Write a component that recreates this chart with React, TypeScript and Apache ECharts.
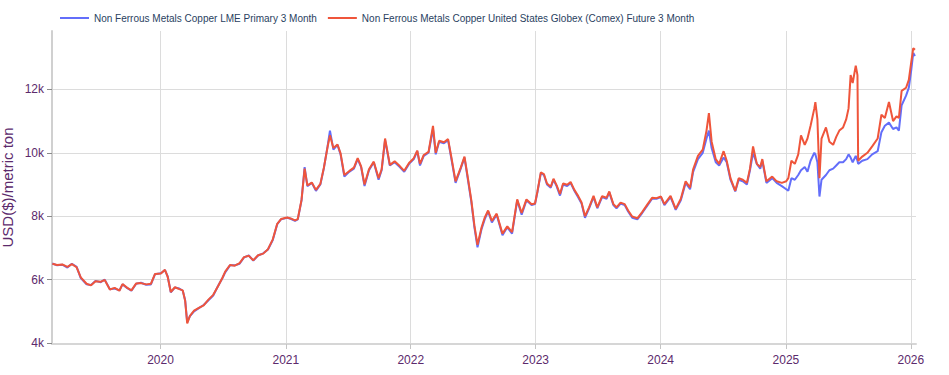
import React, { useEffect, useRef } from "react";
import * as echarts from "echarts";

const FONT = "'Liberation Sans', Arial, Helvetica, sans-serif";
const PURPLE = "#5c2a6c";

const seriesNames = [
  "Non Ferrous Metals Copper LME Primary 3 Month",
  "Non Ferrous Metals Copper United States Globex (Comex) Future 3 Month",
];

const dates = [
  // 2019
  "2019-02-19", "2019-03-05", "2019-03-20", "2019-04-04", "2019-04-17", "2019-05-01", "2019-05-13", "2019-05-30",
  "2019-06-12", "2019-06-25", "2019-07-10", "2019-07-22", "2019-08-06", "2019-08-20", "2019-09-03", "2019-09-12",
  "2019-09-26", "2019-10-08", "2019-10-22", "2019-11-05", "2019-11-20", "2019-12-04", "2019-12-16",
  // 2020
  "2020-01-02", "2020-01-14", "2020-01-22", "2020-01-31", "2020-02-12", "2020-02-25", "2020-03-06", "2020-03-13",
  "2020-03-19", "2020-03-27", "2020-04-08", "2020-04-22", "2020-05-06", "2020-05-20", "2020-06-03", "2020-06-17",
  "2020-06-30", "2020-07-08", "2020-07-22", "2020-08-05", "2020-08-19", "2020-09-01", "2020-09-15", "2020-09-28",
  "2020-10-12", "2020-10-27", "2020-11-10", "2020-11-24", "2020-12-07", "2020-12-18",
  // 2021
  "2021-01-05", "2021-01-15", "2021-01-28", "2021-02-05", "2021-02-16", "2021-02-25", "2021-03-05", "2021-03-18",
  "2021-03-30", "2021-04-12", "2021-04-22", "2021-05-03", "2021-05-10", "2021-05-20", "2021-06-01", "2021-06-10",
  "2021-06-21", "2021-07-05", "2021-07-19", "2021-07-30", "2021-08-09", "2021-08-19", "2021-09-01", "2021-09-15",
  "2021-09-29", "2021-10-08", "2021-10-18", "2021-11-01", "2021-11-15", "2021-11-30", "2021-12-13", "2021-12-27",
  // 2022
  "2022-01-10", "2022-01-20", "2022-01-28", "2022-02-08", "2022-02-22", "2022-03-07", "2022-03-15", "2022-03-25",
  "2022-04-08", "2022-04-20", "2022-04-29", "2022-05-12", "2022-05-27", "2022-06-07", "2022-06-17", "2022-06-27",
  "2022-07-06", "2022-07-15", "2022-07-27", "2022-08-05", "2022-08-15", "2022-08-26", "2022-09-09", "2022-09-26",
  "2022-10-10", "2022-10-24", "2022-11-08", "2022-11-21", "2022-12-05", "2022-12-20", "2022-12-30",
  // 2023
  "2023-01-06", "2023-01-16", "2023-01-25", "2023-02-03", "2023-02-14", "2023-02-22", "2023-03-03", "2023-03-13",
  "2023-03-22", "2023-04-03", "2023-04-13", "2023-04-24", "2023-05-05", "2023-05-15", "2023-05-25", "2023-06-06",
  "2023-06-19", "2023-06-30", "2023-07-14", "2023-07-27", "2023-08-04", "2023-08-16", "2023-08-25", "2023-09-06",
  "2023-09-18", "2023-09-28", "2023-10-10", "2023-10-25", "2023-11-08", "2023-11-24", "2023-12-07", "2023-12-20",
  // 2024
  "2024-01-02", "2024-01-12", "2024-01-30", "2024-02-14", "2024-02-29", "2024-03-14", "2024-03-27", "2024-04-05",
  "2024-04-19", "2024-05-03", "2024-05-14", "2024-05-21", "2024-05-29", "2024-06-10", "2024-06-20", "2024-07-03",
  "2024-07-12", "2024-07-23", "2024-08-06", "2024-08-16", "2024-08-28", "2024-09-09", "2024-09-18", "2024-09-27",
  "2024-10-08", "2024-10-18", "2024-10-24", "2024-11-05", "2024-11-22", "2024-12-05", "2024-12-20",
  // 2025 - 2026
  "2025-01-02", "2025-01-08", "2025-01-17", "2025-01-27", "2025-02-06", "2025-02-14", "2025-02-25", "2025-03-05",
  "2025-03-14", "2025-03-25", "2025-03-28", "2025-04-03", "2025-04-09", "2025-04-15", "2025-04-28", "2025-05-08",
  "2025-05-19", "2025-05-28", "2025-06-06", "2025-06-17", "2025-06-26", "2025-07-03", "2025-07-09", "2025-07-15",
  "2025-07-24", "2025-07-29", "2025-07-31", "2025-08-12", "2025-08-27", "2025-09-10", "2025-09-26", "2025-10-07",
  "2025-10-17", "2025-10-29", "2025-11-10", "2025-11-20", "2025-11-27", "2025-12-05", "2025-12-18", "2025-12-26",
  "2026-01-02", "2026-01-08", "2026-01-13",
];

const lme = [
  // 2019
  6510, 6450, 6470, 6380, 6500, 6400, 6050, 5850, 5830, 5960, 5920, 6000, 5700, 5720, 5660, 5850,
  5730, 5650, 5870, 5900, 5840, 5850, 6170,
  // 2020
  6200, 6300, 6100, 5600, 5750, 5720, 5650, 5350, 4650, 4850, 5000, 5100, 5200, 5350, 5500, 5800,
  6050, 6230, 6450, 6450, 6500, 6700, 6760, 6600, 6760, 6830, 6950, 7250, 7750, 7900,
  // 2021
  7950, 7920, 7850, 7900, 8500, 9550, 8950, 9050, 8800, 9000, 9500, 10200, 10700, 10100, 10250, 9950,
  9250, 9400, 9500, 9800, 9550, 8950, 9450, 9700, 9150, 9450, 10400, 9600, 9700, 9550, 9400, 9650,
  // 2022
  9800, 10050, 9600, 9900, 10000, 10750, 9950, 10350, 10300, 10400, 9850, 9050, 9500, 9850, 9150, 8450,
  7650, 7020, 7600, 7900, 8150, 7800, 8050, 7400, 7650, 7450, 8500, 8050, 8500, 8350, 8380,
  // 2023
  8750, 9350, 9300, 9000, 8900, 9150, 8950, 8650, 9000, 8950, 9050, 8800, 8600, 8400, 7950, 8250,
  8600, 8250, 8600, 8550, 8750, 8350, 8250, 8400, 8350, 8150, 7950, 7900, 8100, 8350, 8550, 8550,
  // 2024
  8600, 8350, 8600, 8200, 8500, 9050, 8850, 9400, 9800, 10000, 10450, 10700, 10150, 9700, 9600, 9850,
  9700, 9150, 8780, 9150, 9100, 9000, 9450, 10000, 9650, 9500, 9750, 9050, 9200, 9050, 8950,
  // 2025 - 2026
  8850, 8800, 9200, 9150, 9300, 9450, 9550, 9400, 9750, 10000, 9950, 9700, 8620, 9150, 9300, 9450,
  9500, 9600, 9700, 9700, 9800, 9950, 9850, 9700, 9900, 9750, 9650, 9750, 9800, 9950, 10050, 10650,
  10850, 10950, 10750, 10800, 10700, 11500, 11800, 12050, 12600, 13150, 13050,
];

const comex = [
  // 2019
  6500, 6460, 6480, 6400, 6490, 6390, 6070, 5870, 5820, 5950, 5930, 5990, 5690, 5740, 5650, 5860,
  5740, 5660, 5880, 5890, 5850, 5870, 6180,
  // 2020
  6190, 6310, 6090, 5610, 5760, 5700, 5660, 5330, 4620, 4860, 5020, 5110, 5190, 5370, 5520, 5790,
  6060, 6250, 6460, 6440, 6520, 6710, 6750, 6610, 6770, 6820, 6960, 7270, 7760, 7910,
  // 2021
  7960, 7930, 7870, 7910, 8520, 9500, 8970, 9060, 8830, 9020, 9520, 10180, 10550, 10150, 10260, 9980,
  9300, 9420, 9530, 9830, 9570, 9000, 9480, 9720, 9200, 9480, 10450, 9620, 9730, 9580, 9430, 9680,
  // 2022
  9830, 10070, 9650, 9930, 10030, 10850, 10000, 10380, 10330, 10430, 9900, 9100, 9530, 9880, 9200, 8500,
  7700, 7100, 7650, 7950, 8180, 7850, 8080, 7450, 7680, 7500, 8530, 8100, 8530, 8380, 8400,
  // 2023
  8780, 9380, 9330, 9030, 8930, 9180, 8980, 8700, 9030, 8990, 9080, 8830, 8640, 8430, 8000, 8280,
  8640, 8280, 8630, 8580, 8780, 8380, 8280, 8430, 8380, 8180, 7990, 7930, 8130, 8380, 8580, 8570,
  // 2024
  8620, 8380, 8640, 8230, 8550, 9100, 8900, 9480, 9900, 10100, 10700, 11250, 10350, 9800, 9650, 10050,
  9750, 9200, 8800, 9200, 9150, 9050, 9500, 10200, 9650, 9550, 9800, 9100, 9250, 9100, 9050,
  // 2025 - 2026
  9100, 9200, 9750, 9650, 9950, 10550, 10250, 10450, 10850, 11400, 11600, 11050, 9200, 10450, 10800, 10350,
  10250, 10500, 10700, 10800, 11050, 11400, 12450, 12200, 12750, 12450, 9750, 9880, 10000, 10200, 10450, 11200,
  11100, 11600, 11000, 11150, 11100, 11950, 12050, 12300, 12850, 13300, 13250,
];

const yearTicks = [2020, 2021, 2022, 2023, 2024, 2025, 2026];
const yTicks = [4000, 6000, 8000, 10000, 12000];
const xRange = ["2019-02-18", "2026-01-16"];

const toTime = (s: string) => {
  const [y, m, d] = s.split("-").map(Number);
  return Date.UTC(y, m - 1, d);
};

export default function App() {
  const ref = useRef<HTMLDivElement>(null);

  useEffect(() => {
    if (!ref.current) return;
    const chart = echarts.init(ref.current, null, { renderer: "svg" });
    const xTickValues = yearTicks.map((y) => Date.UTC(y, 0, 1));
    const lmeData = dates.map((d, i) => [toTime(d), lme[i]]);
    const comexData = dates.map((d, i) => [toTime(d), comex[i]]);

    chart.setOption({
      animation: false,
      backgroundColor: "#ffffff",
      textStyle: { fontFamily: FONT },
      legend: {
        top: 8,
        left: 55,
        icon: "rect",
        itemWidth: 29,
        itemHeight: 2,
        itemGap: 11,
        data: seriesNames,
        textStyle: { color: "#2a3f5f", fontSize: 10, fontFamily: FONT },
      },
      grid: {
        left: 52,
        right: 33,
        top: 31,
        bottom: 31,
        containLabel: false,
        outerBoundsMode: "none",
      },
      xAxis: {
        type: "value",
        min: toTime(xRange[0]),
        max: toTime(xRange[1]),
        axisLine: { show: true, onZero: false, lineStyle: { color: "#d6d6d6", width: 2 } },
        axisTick: {
          show: true,
          length: 5,
          customValues: xTickValues,
          lineStyle: { color: "#c4c4c4", width: 1 },
        },
        axisLabel: {
          customValues: xTickValues,
          formatter: (v: number) => String(new Date(v).getUTCFullYear()),
          color: PURPLE,
          fontSize: 12,
          fontFamily: FONT,
          margin: 10,
          hideOverlap: false,
        },
        splitLine: { show: true, lineStyle: { color: "#dcdcdc", width: 1 } },
      },
      yAxis: {
        type: "value",
        min: 3970,
        max: 13840,
        name: "USD($)/metric ton",
        nameLocation: "middle",
        nameGap: 37,
        nameMoveOverlap: false,
        nameTextStyle: { color: PURPLE, fontSize: 15, fontFamily: FONT },
        axisLine: { show: true, lineStyle: { color: "#d0d0d0", width: 2 } },
        axisTick: {
          show: true,
          length: 5,
          customValues: yTicks,
          lineStyle: { color: "#8a8a8a", width: 1 },
        },
        axisLabel: {
          customValues: yTicks,
          formatter: (v: number) => `${v / 1000}k`,
          color: PURPLE,
          fontSize: 12,
          fontFamily: FONT,
          margin: 8,
        },
        splitLine: { show: true, lineStyle: { color: "#dcdcdc", width: 1 } },
      },
      series: [
        {
          name: seriesNames[0],
          type: "line",
          data: lmeData,
          symbol: "none",
          lineStyle: { color: "#636efa", width: 2 },
          itemStyle: { color: "#636efa" },
        },
        {
          name: seriesNames[1],
          type: "line",
          data: comexData,
          symbol: "none",
          lineStyle: { color: "#ef553b", width: 2 },
          itemStyle: { color: "#ef553b" },
        },
      ],
    });

    return () => chart.dispose();
  }, []);

  return (
    <div
      ref={ref}
      style={{ position: "fixed", left: 0, top: 0, width: 949, height: 375, background: "#fff" }}
    />
  );
}
